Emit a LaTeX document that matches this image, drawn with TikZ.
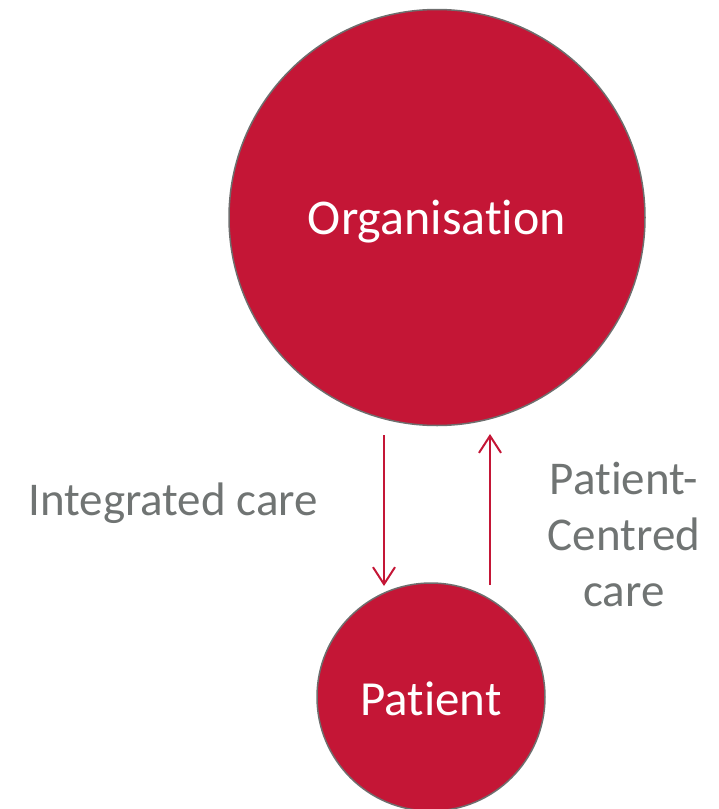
\documentclass[tikz,border=0pt]{standalone}
\usepackage{fontspec}
\setmainfont[RawFeature={-liga;-clig;-calt;-dlig}]{Carlito}
\usetikzlibrary{arrows.meta}
\definecolor{crimson}{RGB}{196,22,54}
\definecolor{rim}{RGB}{110,110,110}
\definecolor{greytext}{RGB}{112,116,115}
\begin{document}
\begin{tikzpicture}[x=1pt,y=-1pt,
  bubble/.style={circle,fill=crimson,draw=rim,line width=1.5pt,inner sep=0pt,text=white},
  flow/.style={draw=crimson,line width=2pt,-{Straight Barb[length=17pt,width=22pt,line width=2pt]}},
  caption/.style={text=greytext,font=\fontsize{47}{56}\selectfont,align=center,inner sep=0pt}]
\useasboundingbox (0,0) rectangle (718,809);
\node[bubble,minimum size=416pt,font=\fontsize{50}{60}\selectfont] (org) at (437,217.5) {\raisebox{-4pt}[\height][\depth]{Organisation}};
\node[bubble,minimum size=228pt,font=\fontsize{49}{59}\selectfont] (pat) at (431,697) {\raisebox{-2pt}[\height][\depth]{Patient}};
\coordinate (d1) at (384,435);
\coordinate (d2) at (384,586);
\coordinate (u1) at (490,585);
\coordinate (u2) at (490,434);
\draw[flow] (d1) -- (d2);
\draw[flow] (u1) -- (u2);
\node[caption] (ic) at (173,503) {Integrated care};
\node[caption] (pcc) at (624,534) {Patient-\\Centred\\care};
\end{tikzpicture}
\end{document}
